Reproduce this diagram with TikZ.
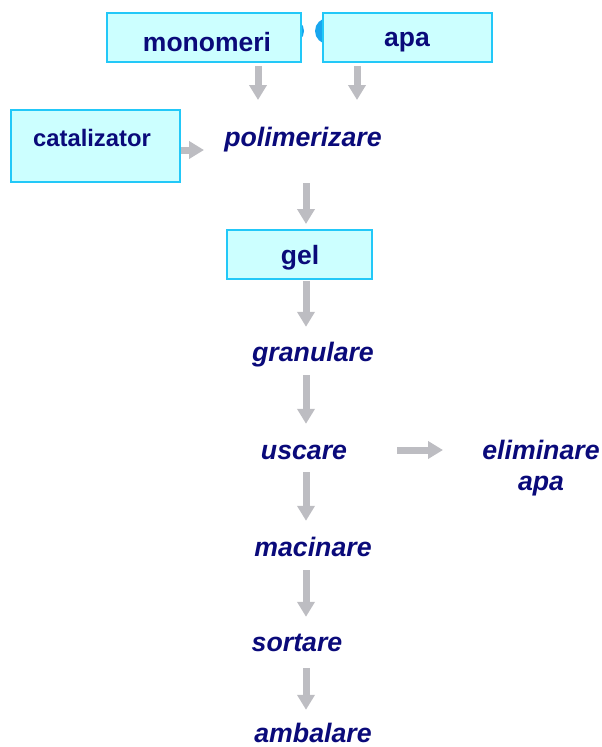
\documentclass[tikz,border=0pt]{standalone}
\usepackage{fontspec}
\setmainfont{Liberation Sans}
\usetikzlibrary{arrows.meta}
\definecolor{boxfill}{HTML}{CCFFFF}
\definecolor{boxline}{HTML}{22C8F8}
\definecolor{navy}{HTML}{0A0A7A}
\definecolor{arrgray}{HTML}{BDBDC2}
\definecolor{blob}{HTML}{18A6EE}
\tikzset{
  box/.style={draw=boxline, fill=boxfill, line width=2pt, inner sep=0pt},
  boxtext/.style={text=navy, font=\fontsize{26.5}{30}\selectfont\bfseries, inner sep=0pt},
  proc/.style={text=navy, font=\fontsize{26.7}{30}\selectfont\bfseries\itshape, inner sep=0pt, minimum height=50pt},
  arr/.style={draw=arrgray, line width=7pt, -{Triangle[width=17pt,length=15pt]}},
}
\begin{document}
\begin{tikzpicture}[x=1pt,y=-1pt]
\useasboundingbox (0,0) rectangle (602,747);
% blobs behind boxes
\fill[blob] (292,31) circle (12);
\fill[blob] (328,31) circle (13);
% input boxes
\node[box, minimum width=194pt, minimum height=49pt] (mono) at (204,37.5) {};
\node[boxtext] (monot) at (207,42) {monomeri};
\node[box, minimum width=169pt, minimum height=49pt] (apa) at (407.5,37.5) {};
\node[boxtext] (apat) at (407,42) {apa};
\node[box, minimum width=169pt, minimum height=72pt] (cat) at (95.5,146) {};
\node[boxtext, font=\fontsize{23.8}{28}\selectfont\bfseries] (catt) at (92,138) {catalizator};
% process steps
\node[proc] (poli) at (303,140) {polimerizare};
\node[box, minimum width=145pt, minimum height=49pt] (gel) at (299.5,254.5) {};
\node[boxtext] (gelt) at (300,258) {gel};
\node[proc] (gran) at (313,355) {granulare};
\node[proc] (usc) at (304,452) {uscare};
\node[proc, align=center, font=\fontsize{26.7}{31}\selectfont\bfseries\itshape] (elim) at (541,468) {eliminare\\apa};
\node[proc] (mac) at (313,547) {macinare};
\node[proc] (sort) at (297,643) {sortare};
\node[proc] (amb) at (313,733) {ambalare};
% columns
\coordinate (c1) at (258,0);
\coordinate (c2) at (357,0);
\coordinate (col) at (306,0);
\coordinate (catend) at (204,150);
% arrows
\draw[arr, shorten <=3pt] (mono.south -| c1) -- (258,100);
\draw[arr, shorten <=3pt] (apa.south -| c2) -- (357,100);
\draw[arr] ([yshift=-4pt]cat.east) -- (catend);
\draw[arr, shorten <=18pt, shorten >=5pt] (poli.south -| col) -- (gel.north -| col);
\draw[arr, shorten <=1pt, shorten >=3pt] (gel.south -| col) -- (gran.north -| col);
\draw[arr, shorten <=-5pt, shorten >=3pt] (gran.south -| col) -- (usc.north -| col);
\draw[arr, shorten <=-5pt, shorten >=1pt] (usc.south -| col) -- (mac.north -| col);
\draw[arr, shorten <=-2pt, shorten >=1pt] (mac.south -| col) -- (sort.north -| col);
\draw[arr, shorten <=0pt, shorten >=-2pt] (sort.south -| col) -- (amb.north -| col);
\draw[arr] (397,450) coordinate (ua) -- (443,450) coordinate (ub);
\end{tikzpicture}
\end{document}
